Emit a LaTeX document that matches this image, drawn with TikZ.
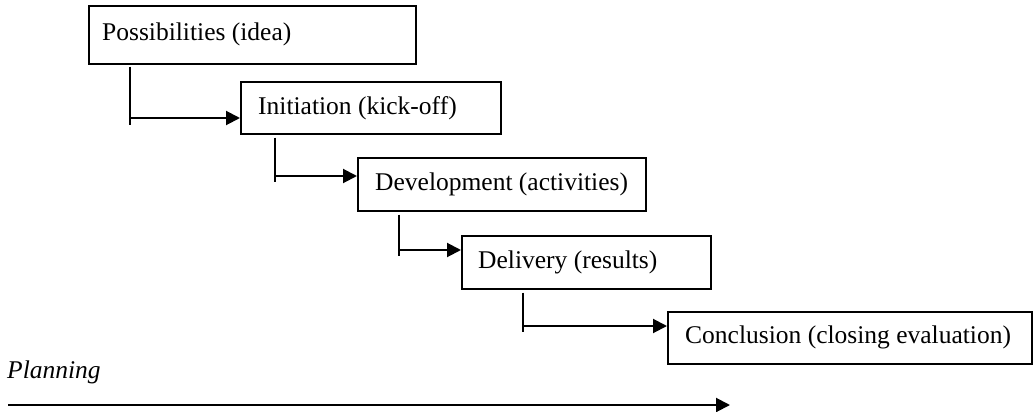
\documentclass[tikz,border=0pt]{standalone}
\usepackage{fontspec}
\setmainfont{Liberation Serif}
\usetikzlibrary{arrows.meta,calc}
\begin{document}
\begin{tikzpicture}[x=1pt,y=-1pt,
  box/.style={draw,line width=1.6pt,anchor=north west,inner sep=0pt},
  lbl/.style={anchor=west,inner sep=0pt,font=\fontsize{25.5}{30}\selectfont},
  stem/.style={line width=2pt},
  arr/.style={line width=2pt,-{Triangle[length=14pt,width=14pt]}},
]
\useasboundingbox (0,0) rectangle (1033,412);
\node[box,minimum width=327pt,minimum height=58pt] (b1) at (88,5) {};
\node[box,minimum width=260pt,minimum height=52pt] (b2) at (240,81) {};
\node[box,minimum width=288pt,minimum height=53pt] (b3) at (357,157) {};
\node[box,minimum width=249pt,minimum height=53pt] (b4) at (461,235) {};
\node[box,minimum width=364pt,minimum height=52pt] (b5) at (667,311) {};
\node[lbl] (t1) at ($(b1.west)+(14,0)$) {Possibilities (idea)};
\node[lbl] (t2) at ($(b2.west)+(18,0)$) {Initiation (kick-off)};
\node[lbl] (t3) at ($(b3.west)+(18,0)$) {Development (activities)};
\node[lbl] (t4) at ($(b4.west)+(17,0)$) {Delivery (results)};
\node[lbl] (t5) at ($(b5.west)+(18,0)$) {Conclusion (closing evaluation)};
\coordinate (s1) at (130,118);
\coordinate (s2) at (275,176);
\coordinate (s3) at (399,250);
\coordinate (s4) at (523,326);
\draw[stem] ($(b1.south -| s1)+(0,2)$) -- ($(s1)+(0,7)$);
\draw[arr] (s1) -- (s1 -| b2.west);
\draw[stem] ($(b2.south -| s2)+(0,3)$) -- ($(s2)+(0,6)$);
\draw[arr] (s2) -- (s2 -| b3.west);
\draw[stem] ($(b3.south -| s3)+(0,3)$) -- ($(s3)+(0,6)$);
\draw[arr] (s3) -- (s3 -| b4.west);
\draw[stem] ($(b4.south -| s4)+(0,3)$) -- ($(s4)+(0,6)$);
\draw[arr] (s4) -- (s4 -| b5.west);
\node[anchor=base west,inner sep=0pt,font=\fontsize{25.5}{30}\selectfont\itshape] (plan) at (7,378) {Planning};
\coordinate (a0) at (8,405);
\coordinate (a1) at (730,405);
\draw[arr] (a0) -- (a1);
\end{tikzpicture}
\end{document}
